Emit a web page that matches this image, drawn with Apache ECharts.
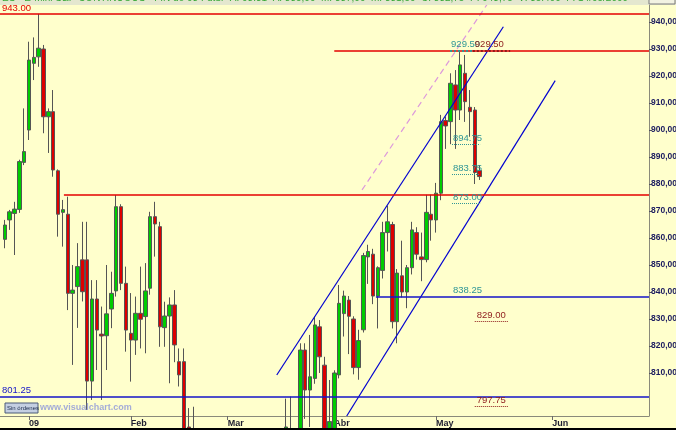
<!DOCTYPE html>
<html>
<head>
<meta charset="utf-8">
<script src="https://cdn.jsdelivr.net/npm/echarts@6/dist/echarts.min.js"></script>
<style>
  html, body { margin: 0; padding: 0; background: #ffffcc; }
  #chart { width: 676px; height: 430px; }
</style>
</head>
<body>
<div id="chart"></div>
<script>
// E-mini S&P continuous, daily sessions (Dec 2008 - May 2009)
// Slot 0 is the first January session; the first bar sits five sessions earlier.
const firstSlot = -5;

const sessionDates = [
  '2008-12-24','2008-12-26','2008-12-29','2008-12-30','2008-12-31',
  '2009-01-02','2009-01-05','2009-01-06','2009-01-07','2009-01-08','2009-01-09','2009-01-12','2009-01-13','2009-01-14','2009-01-15','2009-01-16',
  '2009-01-19','2009-01-20','2009-01-21','2009-01-22','2009-01-23','2009-01-26','2009-01-27','2009-01-28','2009-01-29','2009-01-30',
  '2009-02-02','2009-02-03','2009-02-04','2009-02-05','2009-02-06','2009-02-09','2009-02-10','2009-02-11','2009-02-12','2009-02-13',
  '2009-02-16','2009-02-17','2009-02-18','2009-02-19','2009-02-20','2009-02-23','2009-02-24','2009-02-25','2009-02-26','2009-02-27',
  '2009-03-02','2009-03-03','2009-03-04','2009-03-05','2009-03-06','2009-03-09','2009-03-10','2009-03-11','2009-03-12','2009-03-13',
  '2009-03-16','2009-03-17','2009-03-18','2009-03-19','2009-03-20','2009-03-23','2009-03-24','2009-03-25','2009-03-26','2009-03-27',
  '2009-03-30','2009-03-31',
  '2009-04-01','2009-04-02','2009-04-03','2009-04-06','2009-04-07','2009-04-08','2009-04-09','2009-04-13','2009-04-14','2009-04-15',
  '2009-04-16','2009-04-17','2009-04-20','2009-04-21','2009-04-22','2009-04-23','2009-04-24','2009-04-27','2009-04-28','2009-04-29','2009-04-30',
  '2009-05-01','2009-05-04','2009-05-05','2009-05-06','2009-05-07','2009-05-08','2009-05-11','2009-05-12','2009-05-13','2009-05-14'
];

const opens = [
  859.5, 866.7, 869.1, 870.6, 888.0,
  900.0, 924.7, 927.1, 930.0, 904.9, 906.8, 884.9, 869.5, 868.8, 839.5, 842.0,
  851.9, 851.9, 807.0, 837.4, 824.4, 823.8, 833.7, 840.4, 871.6, 843.2,
  824.7, 822.2, 832.1, 830.9, 841.4, 867.9, 864.2, 826.8, 831.1, 835.2,
  814.2, 814.2, 790, 788, 775, 772, 744, 770, 765, 749,
  731, 699, 695, 707, 681, 678, 678, 716, 719, 749,
  753, 750, 776, 789, 780, 766, 818.5, 803.7, 808, 827.1,
  812.9, 785,
  789, 809.3, 832, 837, 830, 812, 826, 853, 854, 838.5,
  848, 862, 865, 829, 846, 840, 849, 862, 853, 852, 868.8,
  866.7, 876.6, 903.5, 903.1, 916.7, 907.4, 921, 908.4, 907.4, 885
];

const closes = [
  864.8, 869.7, 870.7, 888.3, 892.0,
  925.9, 926.9, 930.3, 904.9, 906.8, 885.2, 868.8, 870.5, 839.5, 840.7, 849.4,
  840.1, 807.0, 837.4, 825.9, 823.7, 831.9, 839.5, 871.6, 843.2, 825.9,
  822.2, 832.1, 829.9, 840.4, 867.9, 865.2, 827.1, 831.1, 835.2, 820.4,
  809.3, 789, 788, 779, 770, 743, 773, 764, 752, 735,
  698, 694, 710, 680, 681, 674, 716, 719, 748, 753,
  750, 776, 790, 780, 764, 818.5, 803.7, 808.6, 827.8, 816,
  784, 792,
  810, 835.8, 838.5, 831, 812, 822, 853.5, 855, 838.5, 849,
  862, 866, 829, 847, 840, 849, 863, 854, 852, 869.5, 866.7,
  876.6, 903.1, 901.5, 917.3, 907.4, 924.1, 910.5, 906.8, 884.25, 882.75
];

const lows = [
  856.2, 863.0, 853.7, 869.3, 887.0,
  896.3, 918.5, 923.4, 898.8, 891.5, 882.7, 860.5, 856.8, 833.3, 813.0, 826.7,
  836.5, 796.3, 800.0, 811.1, 800.0, 811.1, 826.6, 838.3, 840.7, 817.9,
  806.8, 816.7, 819.1, 817.3, 839.0, 853.1, 819.7, 819.7, 806.2, 814.0,
  805.0, 787, 780, 775, 754, 742, 742, 752, 750, 733,
  697, 688, 692, 677, 664, 671, 676, 712, 711, 740,
  748, 748, 770, 775, 760, 764, 793, 790, 806, 810,
  779, 782,
  783, 808, 823.5, 817, 809.5, 807.5, 825, 843, 835.5, 826.5,
  845, 855, 826.5, 821, 838, 834, 846.5, 852, 844, 851, 859,
  862, 874, 893, 894.75, 893, 903.7, 903, 897.5, 880, 881.5
];

const highs = [
  866.7, 870.4, 873.4, 889.0, 908.0,
  932.7, 934.3, 943.0, 931.5, 908.0, 914.8, 885.4, 874.1, 875.3, 850.0, 858.1,
  866.0, 866.0, 844.4, 844.4, 834.6, 850.0, 847.5, 875.9, 872.5, 849.4,
  839.6, 838.3, 849.4, 850.7, 869.7, 873.4, 866.0, 836.4, 838.0, 840.7,
  819.1, 819.1, 797.0, 797.5, 778, 777, 775, 780, 779, 752,
  735, 709, 722, 709, 697, 693, 718, 732, 750, 757,
  773, 777, 800.5, 801.25, 788, 821, 821, 824.1, 830.9, 829.6,
  816, 807.4,
  811, 842.6, 840.5, 838.5, 831, 826, 854.5, 857.5, 856, 849.5,
  866, 872, 866, 848.5, 859, 850, 866, 864, 862, 876, 876,
  880.4, 905.6, 905, 921, 922.2, 929.5, 927.8, 914.8, 908.5, 887
];

// Month ticks along the session axis (future months continue the slot count)
const monthTickSlots = [0, 21, 41, 63, 84, 108];
const monthTickLabels = ['09', 'Feb', 'Mar', 'Abr', 'May', 'Jun'];

// Price axis ticks
const priceTicks = [810, 820, 830, 840, 850, 860, 870, 880, 890, 900, 910, 920, 930, 940];

// Horizontal levels: [price, first slot, labelled]
const redLevels = [[943, null, true], [929.5, 63, false], [876, 7.2, false]];
const blueLevels = [[838.25, 71.6, false], [801.25, null, true]];

// Price notes: [price, first slot, last slot]
const tealNotes = [[929.5, 86.9, 91.6], [894.75, 87.3, 93.1], [883.75, 87.3, 93.1], [873.0, 87.3, 93.1]];
const tealTextOnly = [[838.25, 87.3, 93.1]];
const darkRedNotes = [[929.5, 91.6, 99.3], [829.0, 92.0, 98.9], [797.75, 92.0, 98.9]];

// Trend channel and fan line: [slot, price] anchors
const upperChannel = [[51.13, 809.26], [97.9, 938.26]];
const lowerChannel = [[65.57, 794.07], [108.6, 918.3]];
const fanLine = [[68.73, 877.8], [96.0, 950.4]];

const xMin = -5.99, xMax = 127.96;
const yMin = 794.07, yMax = 946.3;

const candles = sessionDates.map((d, k) => [k + firstSlot, opens[k], closes[k], lows[k], highs[k]]);

const TEAL = '#2f9696';
const DARKRED = '#8e1b1b';
const RED = '#e40000';
const BLUE = '#1414c8';
const FONT = 'Liberation Sans';

function noteText(v) { return v.toFixed(2); }

function noteLabel(v, color, dx) {
  return { show: true, formatter: noteText(v), position: 'insideStartTop', distance: [dx, 1],
    color: color, fontSize: 9.5, fontFamily: FONT };
}

const markLines = [];
redLevels.forEach(([v, from, labelled]) => {
  markLines.push([
    { coord: [from === null ? xMin : from, v], lineStyle: { color: RED, width: 1.5, type: 'solid' },
      label: labelled ? noteLabel(v, RED, 2) : { show: false } },
    { coord: [xMax, v] }
  ]);
});
blueLevels.forEach(([v, from, labelled]) => {
  markLines.push([
    { coord: [from === null ? xMin : from, v], lineStyle: { color: BLUE, width: 1.5, type: 'solid' },
      label: labelled ? noteLabel(v, BLUE, 2) : { show: false } },
    { coord: [xMax, v] }
  ]);
});
tealNotes.forEach(([v, a, b]) => {
  markLines.push([
    { coord: [a, v], lineStyle: { color: TEAL, width: v === 929.5 ? 2 : 1, type: 'dotted' },
      label: noteLabel(v, TEAL, 1) },
    { coord: [b, v] }
  ]);
});
tealTextOnly.forEach(([v, a, b]) => {
  markLines.push([
    { coord: [a, v], lineStyle: { color: 'rgba(0,0,0,0)', width: 1 },
      label: noteLabel(v, TEAL, 1) },
    { coord: [b, v] }
  ]);
});
darkRedNotes.forEach(([v, a, b]) => {
  markLines.push([
    { coord: [a, v], lineStyle: { color: DARKRED, width: v === 929.5 ? 2 : 1, type: 'dotted' },
      label: noteLabel(v, DARKRED, 2) },
    { coord: [b, v] }
  ]);
});

const headerText = 'ES - E-Mini S&P CONTINUOUS - FIN de 03 Futur  A: 08:31  A: 885,00  M: 887,00  m: 881,50  C: 882,75  P: 943,75  V: 35.490  F: 14/05/2009';

const chart = echarts.init(document.getElementById('chart'), null, { renderer: 'canvas' });
chart.setOption({
  animation: false,
  backgroundColor: '#ffffcc',
  grid: { left: 0, right: 27, top: 5, bottom: 14, containLabel: false, outerBoundsMode: 'none' },
  xAxis: {
    type: 'value', min: xMin, max: xMax,
    axisLine: { show: true, onZero: false, lineStyle: { color: '#8a8a7a', width: 1 } },
    axisTick: { show: true, customValues: monthTickSlots, length: 4, lineStyle: { color: '#6a6a6a' } },
    axisLabel: {
      show: true, customValues: monthTickSlots, align: 'left', margin: 3,
      formatter: v => monthTickLabels[monthTickSlots.indexOf(Math.round(v))] || '',
      color: '#1e1e30', fontSize: 9, fontWeight: 'bold', fontFamily: FONT
    },
    splitLine: { show: false }
  },
  yAxis: {
    type: 'value', position: 'right', min: yMin, max: yMax,
    axisLine: { show: true, onZero: false, lineStyle: { color: '#8a8a7a', width: 1 } },
    axisTick: { show: true, customValues: priceTicks, length: 3, lineStyle: { color: '#505060' } },
    axisLabel: {
      customValues: priceTicks, margin: 2,
      formatter: v => v.toFixed(2).replace('.', ','),
      color: '#1c1c60', fontSize: 8.5, fontWeight: 'bold', fontFamily: FONT
    },
    splitLine: { show: false }
  },
  series: [
    {
      type: 'candlestick', name: 'ES', data: candles, barWidth: 4, clip: true, z: 2,
      itemStyle: { color: '#00cc00', color0: '#dd0000', borderColor: '#555555', borderColor0: '#555555', borderWidth: 1 },
      markLine: { silent: true, symbol: ['none', 'none'], animation: false, data: markLines }
    },
    { type: 'line', name: 'upper channel', data: upperChannel, symbol: 'none', clip: true, silent: true, z: 4,
      lineStyle: { color: '#0000d0', width: 1.2 } },
    { type: 'line', name: 'lower channel', data: lowerChannel, symbol: 'none', clip: true, silent: true, z: 4,
      lineStyle: { color: '#0000d0', width: 1.2 } },
    { type: 'line', name: 'fan', data: fanLine, symbol: 'none', clip: true, silent: true, z: 4,
      lineStyle: { color: '#dc98dc', width: 1.2, type: [6, 4] } }
  ],
  graphic: [
    { type: 'rect', shape: { x: 0, y: 0, width: 676, height: 5 }, style: { fill: '#e4e7cf' }, z: 10 },
    { type: 'text', x: 2, y: -7, z: 11,
      style: { text: headerText, fill: '#36a836', font: '10px ' + FONT } },
    { type: 'rect', shape: { x: 649, y: -2, width: 26, height: 6 }, style: { fill: '#f2f2e2', stroke: '#7a7a7a', lineWidth: 1 }, z: 12 },
    { type: 'rect', shape: { x: 5, y: 403, width: 33, height: 10 }, style: { fill: '#c4cfe2', stroke: '#4a5a78', lineWidth: 1 }, z: 10 },
    { type: 'text', x: 7, y: 405, z: 11, style: { text: 'Sin órdenes', fill: '#203050', font: '6px ' + FONT } },
    { type: 'text', x: 40, y: 403, z: 10, style: { text: 'www.visualchart.com', fill: '#a4acd8', font: 'bold 9px ' + FONT } },
    { type: 'rect', shape: { x: 0, y: 428, width: 676, height: 2 }, style: { fill: '#000000' }, z: 10 }
  ]
});
</script>
</body>
</html>
